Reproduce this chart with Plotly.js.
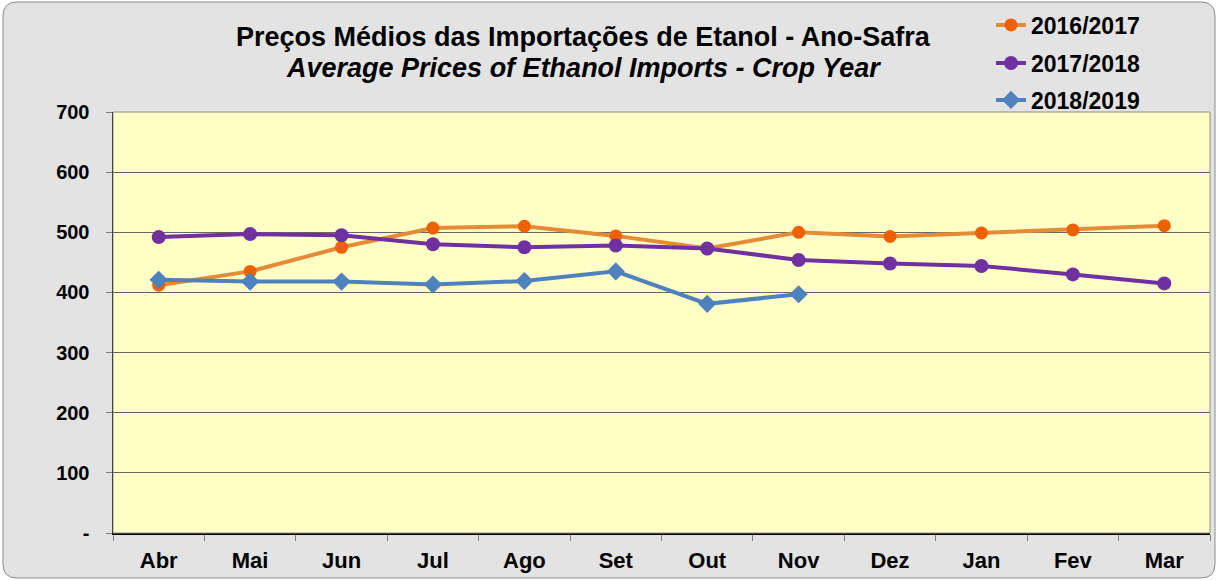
<!DOCTYPE html>
<html>
<head>
<meta charset="utf-8">
<script src="https://cdn.plot.ly/plotly-3.0.1.min.js"></script>
<style>html,body{margin:0;padding:0;background:#fff;}#chart{width:1219px;height:580px;}</style>
</head>
<body>
<div id="chart"></div>
<script>
const months = ['Abr','Mai','Jun','Jul','Ago','Set','Out','Nov','Dez','Jan','Fev','Mar'];
const s1617 = [412, 435, 475, 507, 510, 494, 473, 500, 493, 499, 504, 511];
const s1718 = [492, 497, 495, 480, 475, 478, 473, 454, 448, 444, 430, 415];
const s1819 = [421, 418, 418, 413, 419, 435, 381, 397];
const yTickVals = [0, 100, 200, 300, 400, 500, 600, 700];
const yTickText = ['-', '100', '200', '300', '400', '500', '600', '700'];

const L = 113, R = 1210, T = 112, B = 533;
const W = 1219, H = 580;
const px = x => (x - L) / (R - L);
const py = y => (B - y) / (B - T);

function roundRect(x0, y0, x1, y1, r) {
  const X = v => px(v), Y = v => py(v);
  return `M ${X(x0 + r)} ${Y(y0)} L ${X(x1 - r)} ${Y(y0)} Q ${X(x1)} ${Y(y0)} ${X(x1)} ${Y(y0 + r)} ` +
         `L ${X(x1)} ${Y(y1 - r)} Q ${X(x1)} ${Y(y1)} ${X(x1 - r)} ${Y(y1)} ` +
         `L ${X(x0 + r)} ${Y(y1)} Q ${X(x0)} ${Y(y1)} ${X(x0)} ${Y(y1 - r)} ` +
         `L ${X(x0)} ${Y(y0 + r)} Q ${X(x0)} ${Y(y0)} ${X(x0 + r)} ${Y(y0)} Z`;
}

const FAM = 'Liberation Sans, Arial, sans-serif';
const lf = {family: FAM, size: 23, color: '#000'};

const traces = [
  {x: months, y: s1617, name: '<b>2016/2017</b>', type: 'scatter', mode: 'lines+markers',
   line: {color: '#e38b36', width: 4}, marker: {color: '#ee6000', size: 13, symbol: 'circle'}, legend: 'legend'},
  {x: months, y: s1718, name: '<b>2017/2018</b>', type: 'scatter', mode: 'lines+markers',
   line: {color: '#7030a0', width: 4}, marker: {color: '#7030a0', size: 14, symbol: 'circle'}, legend: 'legend2'},
  {x: months.slice(0, s1819.length), y: s1819, name: '<b>2018/2019</b>', type: 'scatter', mode: 'lines+markers',
   line: {color: '#4f81bd', width: 4}, marker: {color: '#4f81bd', size: 14, symbol: 'diamond'}, legend: 'legend3'}
];

const legBase = {bgcolor: 'rgba(0,0,0,0)', borderwidth: 0, font: lf, xanchor: 'left', yanchor: 'middle', x: px(991)};

const layout = {
  width: W, height: H,
  margin: {l: L, r: W - R, t: T, b: H - B, pad: 0, autoexpand: false},
  paper_bgcolor: '#ffffff',
  plot_bgcolor: '#ffffc6',
  showlegend: true,
  legend: Object.assign({}, legBase, {y: py(25)}),
  legend2: Object.assign({}, legBase, {y: py(63)}),
  legend3: Object.assign({}, legBase, {y: py(100)}),
  xaxis: {
    type: 'category', range: [-0.5, 11.5], showgrid: false,
    ticks: 'outside', tickson: 'boundaries', ticklen: 6, tickcolor: '#808080', tickwidth: 1,
    showline: true, linecolor: '#000', linewidth: 1.5, mirror: false,
    ticklabelstandoff: 7, automargin: false,
    tickfont: {family: FAM, size: 22, color: '#000', weight: 'bold'},
    fixedrange: true
  },
  yaxis: {
    range: [0, 700], tickvals: yTickVals, ticktext: yTickText,
    showgrid: true, gridcolor: '#666666', gridwidth: 1,
    ticks: 'outside', ticklen: 6, tickcolor: '#808080',
    showline: true, linecolor: '#000', linewidth: 1.5, zeroline: false,
    ticklabelstandoff: 12, automargin: false,
    tickfont: {family: FAM, size: 20, color: '#000', weight: 'bold'},
    fixedrange: true
  },
  shapes: [
    {type: 'path', xref: 'paper', yref: 'paper', path: roundRect(3, 2, 1215, 578, 14),
     fillcolor: '#e3e3e3', line: {color: '#8c8c8c', width: 1}, layer: 'below'},
    {type: 'rect', xref: 'paper', yref: 'paper', x0: 0, x1: 1, y0: 0, y1: 1,
     line: {width: 0}, fillcolor: '#ffffc6', layer: 'below'},
    {type: 'rect', xref: 'paper', yref: 'paper', x0: 0, x1: 1, y0: 0, y1: 1,
     line: {color: '#8c8c8c', width: 1}, fillcolor: 'rgba(0,0,0,0)', layer: 'above'}
  ],
  annotations: [
    {xref: 'paper', yref: 'paper', x: px(583), y: py(37), xanchor: 'center', yanchor: 'middle', showarrow: false,
     text: '<b>Preços Médios das Importações de Etanol - Ano-Safra</b>',
     font: {family: FAM, size: 27, color: '#000'}},
    {xref: 'paper', yref: 'paper', x: px(583), y: py(68), xanchor: 'center', yanchor: 'middle', showarrow: false,
     text: '<b><i>Average Prices of Ethanol Imports - Crop Year</i></b>',
     font: {family: FAM, size: 27, color: '#000'}}
  ]
};

Plotly.newPlot('chart', traces, layout, {displayModeBar: false, staticPlot: true});
</script>
</body>
</html>
